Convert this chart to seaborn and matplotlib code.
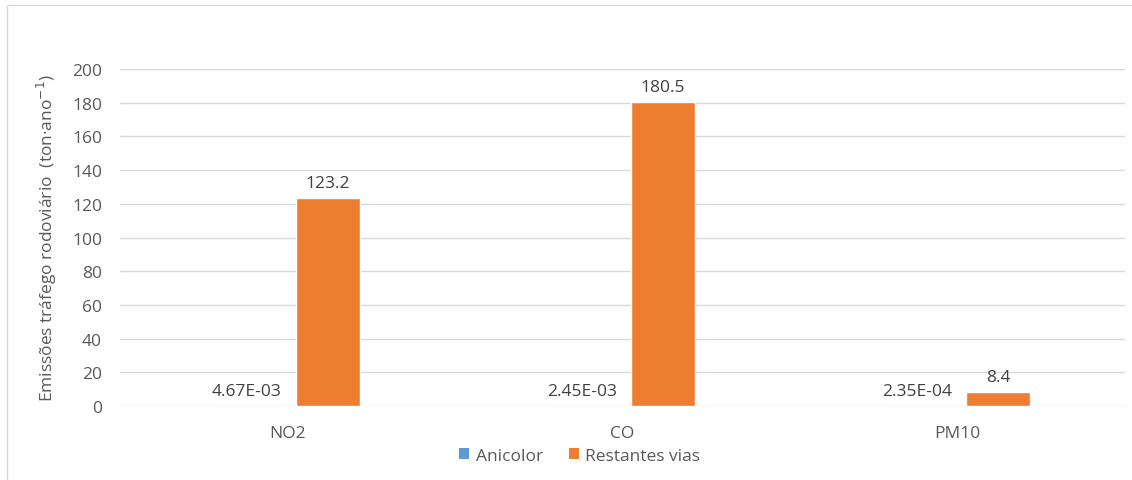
import matplotlib
matplotlib.use("Agg")
import matplotlib.pyplot as plt
from matplotlib.patches import Rectangle, Patch
import seaborn as sns
import pandas as pd

# Road-traffic emissions per pollutant, two source groups
pollutants = ["NO2", "CO", "PM10"]
series_names = ["Anicolor", "Restantes vias"]
anicolor = [4.67e-3, 2.45e-3, 2.35e-4]
restantes = [123.2, 180.5, 8.4]
y_ticks = [0, 20, 40, 60, 80, 100, 120, 140, 160, 180, 200]
colors = ["#5B9BD5", "#ED7D31"]
text_color = "#595959"
fs = 12.5

df = pd.DataFrame({
    "pollutant": pollutants * 2,
    "serie": [series_names[0]] * 3 + [series_names[1]] * 3,
    "valor": anicolor + restantes,
})

sns.set_theme(style="white")
plt.rcParams["font.family"] = ["Open Sans", "DejaVu Sans"]

fig = plt.figure(figsize=(11.32, 4.81), dpi=100)
ax = fig.add_axes([0.106, 0.1538, 0.8878, 0.7007])

sns.barplot(data=df, x="pollutant", y="valor", hue="serie", order=pollutants,
            hue_order=series_names, palette=colors, width=0.484, gap=0.215,
            saturation=1, legend=False, ax=ax)

ax.set_ylim(0, 200)
ax.set_xlim(-0.5, len(pollutants) - 0.5)
ax.set_yticks(y_ticks)
ax.yaxis.grid(True, color="#D9D9D9", linewidth=1.0)
ax.set_axisbelow(True)
for s in ax.spines.values():
    s.set_visible(False)
ax.tick_params(axis="y", length=0, pad=13, labelsize=fs, labelcolor=text_color)
ax.tick_params(axis="x", length=0, pad=14, labelsize=fs, labelcolor=text_color)
ax.set_xlabel("")
ax.set_ylabel("Emissões tráfego rodoviário  (ton·ano$^{-1}$)", fontsize=fs,
              color=text_color, labelpad=9)

# value labels above every bar
fmts = [lambda v: f"{v:.2E}", lambda v: f"{v:.1f}"]
for cont, fmt in zip(ax.containers, fmts):
    ax.bar_label(cont, labels=[fmt(r.get_height()) for r in cont], padding=5,
                 fontsize=fs, color="#404040")

handles = [Patch(facecolor=c, edgecolor="none") for c in colors]
fig.legend(handles, series_names, loc="center", bbox_to_anchor=(0.512, 0.05),
           ncol=2, frameon=False, fontsize=fs, handlelength=0.6, handleheight=0.6,
           columnspacing=1.5, handletextpad=0.35, labelcolor=text_color)

# chart-area border
fig.patches.append(Rectangle((7 / 1132, -0.05), 1.2, 1 - 6 / 481 + 0.05,
                             transform=fig.transFigure, fill=False,
                             edgecolor="#D9D9D9", linewidth=1.0))

fig.savefig("out.png", dpi=100)
